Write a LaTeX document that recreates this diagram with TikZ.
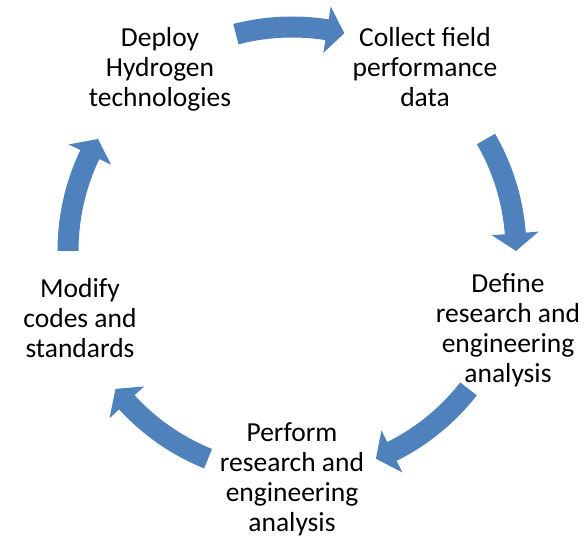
\documentclass[tikz,border=0pt]{standalone}
\usepackage{fontspec}
\setmainfont{Carlito}
\definecolor{arrowblue}{RGB}{79,129,189}
\begin{document}
\begin{tikzpicture}[x=1pt,y=1pt,
  lbl/.style={align=center,inner sep=0pt,anchor=base,font=\fontsize{27.5}{30}\selectfont},
  cyclearrow/.style={fill=arrowblue,draw=none}]
\useasboundingbox (-292,-286) rectangle (292,251);
\def\R{224}\def\w{10.5}\def\h{23.5}\def\d{4.5}
\foreach \m/\s in {90.5/14,15/15,-53/15,-127/15,165/15}{
  \pgfmathsetmacro{\a}{\m+\s}
  \pgfmathsetmacro{\b}{\m-\s}
  \pgfmathsetmacro{\c}{\b+\d}
  \fill[cyclearrow] (\a:\R+\w) arc[start angle=\a,end angle=\c,radius=\R+\w]
    -- (\c:\R+\h) -- (\b:\R) -- (\c:\R-\h) -- (\c:\R-\w)
    arc[start angle=\c,end angle=\a,radius=\R-\w] -- cycle;
}
\node[lbl] (deploy) at (-132,144) {Deploy\\Hydrogen\\technologies};
\node[lbl] (collect) at (133,144) {Collect field\\performance\\data};
\node[lbl] (define) at (216,-132) {Define\\research and\\engineering\\analysis};
\node[lbl] (perform) at (0,-281) {Perform\\research and\\engineering\\analysis};
\node[lbl] (modify) at (-212,-107) {Modify\\codes and\\standards};
\end{tikzpicture}
\end{document}
